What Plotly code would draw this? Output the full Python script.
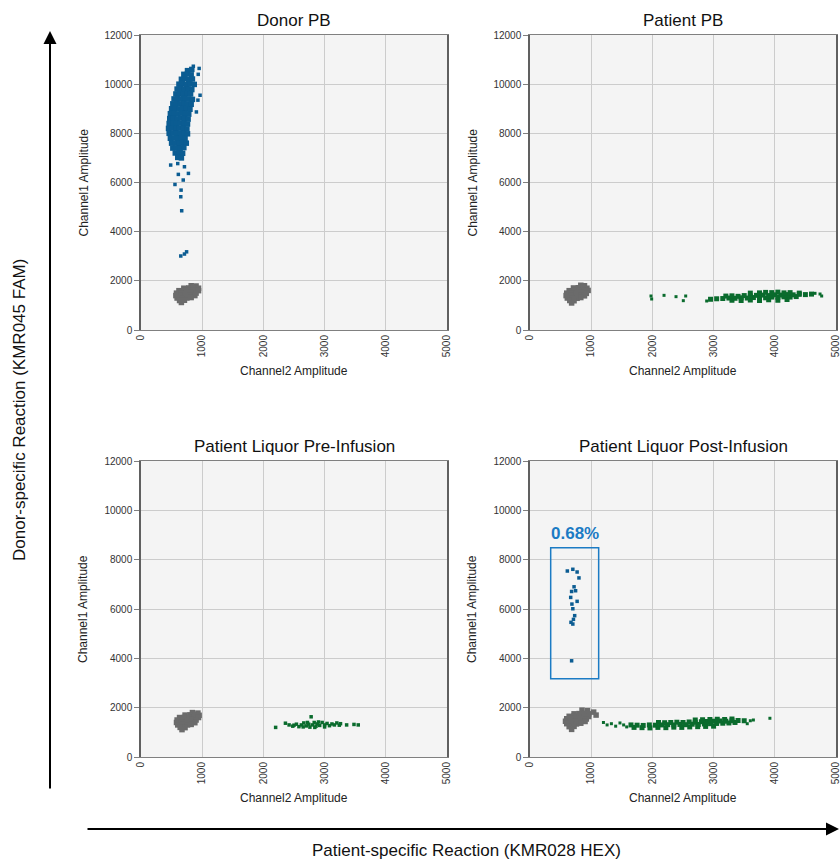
import plotly.graph_objects as go

# ---------------- data ----------------
panel_titles = ["Donor PB", "Patient PB", "Patient Liquor Pre-Infusion", "Patient Liquor Post-Infusion"]
x_ticks = [0, 1000, 2000, 3000, 4000, 5000]
y_ticks = [0, 2000, 4000, 6000, 8000, 10000, 12000]
pct_label = "0.68%"

# Donor PB - blue (FAM+) dense cluster
donor_blue_x = [760, 830, 700, 760, 820, 660, 720, 780, 840, 620, 680, 740, 800, 870,
                590, 650, 710, 770, 830, 570, 630, 690, 750, 810, 540, 600, 660, 720, 780, 840,
                520, 580, 640, 700, 760, 820, 500, 560, 620, 680, 740, 800, 480, 540, 600, 660, 720, 780,
                470, 530, 590, 650, 710, 770, 460, 520, 580, 640, 700, 760, 450, 510, 570, 630, 690, 750,
                460, 520, 580, 640, 700, 760, 480, 540, 600, 660, 720, 500, 560, 620, 680, 740,
                520, 580, 640, 700, 560, 620, 680, 600, 660]
donor_blue_y = [10550, 10600, 10400, 10420, 10380, 10200, 10220, 10180, 10210, 10000, 10020, 9980, 10010, 9990,
                9800, 9820, 9790, 9810, 9780, 9600, 9610, 9590, 9620, 9600, 9400, 9410, 9390, 9420, 9400, 9380,
                9200, 9210, 9190, 9220, 9200, 9180, 9000, 9010, 8990, 9020, 9000, 8980, 8800, 8810, 8790, 8820, 8800, 8780,
                8600, 8610, 8590, 8620, 8600, 8580, 8400, 8410, 8390, 8420, 8400, 8380, 8200, 8210, 8190, 8220, 8200, 8180,
                8000, 8010, 7990, 8020, 8000, 7980, 7800, 7810, 7790, 7820, 7800, 7600, 7610, 7590, 7620, 7600,
                7400, 7410, 7390, 7420, 7200, 7210, 7190, 7020, 7000]
# Donor PB - blue scattered droplets
donor_blue_out_x = [855, 950, 935, 965, 930, 905, 485, 600, 710, 610, 775, 690, 555, 655, 650, 665, 650, 710, 745]
donor_blue_out_y = [10730, 10640, 10400, 9550, 9350, 8870, 6710, 6770, 6640, 6330, 6370, 6100, 5920, 5690, 5420, 4850, 3010, 3090, 3180]

# Double-negative (grey) clusters, one per panel
neg1_x = [820, 900, 700, 780, 860, 940, 620, 700, 780, 860, 940, 580, 660, 740, 820, 900, 570, 650, 730, 810, 880, 590, 670, 750, 820, 630, 710, 660]
neg1_y = [1800, 1790, 1700, 1710, 1720, 1700, 1600, 1610, 1600, 1620, 1600, 1500, 1510, 1500, 1520, 1500, 1400, 1410, 1400, 1420, 1400, 1300, 1310, 1300, 1320, 1200, 1210, 1120]
neg2_x = [830, 890, 710, 790, 870, 930, 640, 720, 800, 880, 950, 600, 680, 760, 840, 920, 590, 670, 750, 830, 890, 610, 690, 770, 830, 650, 720, 680]
neg2_y = [1820, 1800, 1710, 1720, 1730, 1700, 1600, 1610, 1600, 1620, 1610, 1500, 1510, 1500, 1520, 1490, 1400, 1410, 1400, 1420, 1390, 1300, 1310, 1290, 1320, 1200, 1190, 1100]
neg3_x = [840, 930, 720, 800, 880, 950, 630, 710, 790, 870, 940, 590, 670, 750, 830, 900, 580, 660, 740, 820, 880, 600, 680, 760, 820, 640, 720, 670]
neg3_y = [1800, 1780, 1700, 1710, 1720, 1690, 1600, 1610, 1600, 1620, 1600, 1500, 1510, 1500, 1520, 1500, 1400, 1410, 1400, 1420, 1390, 1300, 1310, 1300, 1320, 1200, 1190, 1110]
neg4_x = [850, 940, 1040, 720, 800, 880, 960, 1080, 640, 720, 800, 880, 960, 600, 680, 760, 840, 920, 580, 660, 740, 820, 900, 600, 680, 760, 830, 640, 720, 680]
neg4_y = [1900, 1880, 1820, 1750, 1760, 1770, 1750, 1700, 1650, 1660, 1650, 1670, 1640, 1550, 1560, 1550, 1570, 1540, 1450, 1460, 1450, 1470, 1440, 1350, 1360, 1340, 1370, 1230, 1240, 1120]

# Patient PB - green (HEX+) cluster
ppb_green_x = [3300, 3450, 3600, 3750, 3900, 4050, 4200,
               2950, 3050, 3150, 3250, 3350, 3450, 3550, 3650, 3750, 3850, 3950, 4050, 4150, 4250, 4350,
               3200, 3300, 3400, 3500, 3600, 3700, 3800, 3900, 4000, 4100, 4200, 4300, 4400, 4500, 4600,
               3600, 3750, 3850, 3950, 4050, 4150, 4250, 4400]
ppb_green_y = [1210, 1200, 1220, 1200, 1230, 1210, 1240,
               1250, 1270, 1280, 1300, 1290, 1310, 1300, 1320, 1330, 1310, 1340, 1330, 1350, 1340, 1360,
               1380, 1390, 1370, 1400, 1390, 1410, 1420, 1400, 1430, 1420, 1440, 1430, 1450, 1440, 1460,
               1500, 1510, 1530, 1520, 1540, 1510, 1520, 1500]
ppb_green_out_x = [1977, 1988, 2190, 2386, 2544, 2505, 2887, 4739, 4657, 4766]
ppb_green_out_y = [1383, 1261, 1410, 1356, 1383, 1193, 1180, 1464, 1492, 1383]

# Liquor pre-infusion - green cluster
pre_green_x = [2200, 2360, 2420, 2480, 2500, 2540, 2580, 2620, 2650, 2660, 2700, 2720, 2740, 2760, 2780,
               2800, 2830, 2840, 2860, 2880, 2900, 2920, 2960, 3000, 3000, 3040, 3080, 3120, 3160, 3200,
               3240, 3260, 3360, 3480, 3550]
pre_green_y = [1200, 1370, 1300, 1250, 1290, 1330, 1230, 1300, 1220, 1380, 1260, 1400, 1330, 1210, 1630,
               1300, 1400, 1200, 1250, 1340, 1420, 1280, 1400, 1300, 1220, 1360, 1270, 1340, 1300, 1380,
               1290, 1350, 1300, 1320, 1300]

# Liquor post-infusion - green cluster
post_green_x = [1700, 1830, 1960, 2090, 2220, 2350, 2480, 2610, 2740, 2870, 3000,
                1650, 1750, 1850, 1950, 2050, 2150, 2250, 2350, 2450, 2550, 2650, 2750, 2850, 2950, 3050, 3150, 3250, 3350,
                2100, 2200, 2300, 2400, 2500, 2600, 2700, 2800, 2900, 3000, 3100, 3200, 3300, 3400, 3500,
                2700, 2820, 2940, 3060, 3180, 3300]
post_green_y = [1200, 1190, 1180, 1200, 1190, 1210, 1200, 1220, 1230, 1240, 1250,
                1300, 1290, 1280, 1300, 1290, 1300, 1310, 1300, 1320, 1310, 1330, 1320, 1340, 1350, 1360, 1370, 1380, 1400,
                1400, 1390, 1400, 1410, 1400, 1420, 1410, 1430, 1440, 1450, 1460, 1450, 1470, 1480, 1470,
                1500, 1510, 1520, 1530, 1520, 1540]
post_green_out_x = [1200, 1260, 1330, 1400, 1470, 1530, 1580, 3550, 3600, 3650, 3920]
post_green_out_y = [1400, 1300, 1350, 1250, 1380, 1300, 1220, 1350, 1470, 1500, 1570]

# Liquor post-infusion - blue (donor) droplets
post_blue_x = [610, 700, 770, 800, 720, 745, 680, 665, 770, 685, 700, 730, 710, 670, 700, 680]
post_blue_y = [7540, 7610, 7500, 7260, 6900, 6740, 6710, 6470, 6310, 6200, 6010, 5730, 5580, 5460, 5390, 3900]

# Gate box around donor droplets (x0, x1, y0, y1)
gate_x = [338, 1122]
gate_y = [3170, 8480]

# ---------------- figure ----------------
BLUE = "#0b5c92"
GREEN = "#0a6b2d"
GREY = "#6b6b6b"
FONT = "Liberation Sans, Arial, sans-serif"

W, H = 840, 862
# plot areas in pixels: (left, right, top, bottom)
areas = [(141, 447, 35, 330), (530, 836, 35, 330), (141, 447, 461, 757), (530, 836, 461, 757)]

fig = go.Figure()

def add(xs, ys, color, size, axis_i):
    sfx = "" if axis_i == 1 else str(axis_i)
    fig.add_trace(go.Scatter(x=xs, y=ys, mode="markers", xaxis="x" + sfx, yaxis="y" + sfx,
                             marker=dict(symbol="square", size=size, color=color, line=dict(width=0)),
                             hoverinfo="x+y", showlegend=False))

# panel 1
add(neg1_x, neg1_y, GREY, 5.5, 1)
add(donor_blue_x, donor_blue_y, BLUE, 5.5, 1)
add(donor_blue_out_x, donor_blue_out_y, BLUE, 3.5, 1)
# panel 2
add(neg2_x, neg2_y, GREY, 5.5, 2)
add(ppb_green_x, ppb_green_y, GREEN, 5, 2)
add(ppb_green_out_x, ppb_green_out_y, GREEN, 3, 2)
# panel 3
add(neg3_x, neg3_y, GREY, 5.5, 3)
add(pre_green_x, pre_green_y, GREEN, 3.5, 3)
# panel 4
add(neg4_x, neg4_y, GREY, 5.5, 4)
add(post_green_x, post_green_y, GREEN, 5, 4)
add(post_green_out_x, post_green_out_y, GREEN, 3, 4)
add(post_blue_x, post_blue_y, BLUE, 3.5, 4)

layout = dict(width=W, height=H, autosize=False, paper_bgcolor="white", plot_bgcolor="#f4f4f4",
              margin=dict(l=0, r=0, t=0, b=0, pad=0), font=dict(family=FONT, color="#222"))

annotations = []
for i, (l, r, t, b) in enumerate(areas, start=1):
    sfx = "" if i == 1 else str(i)
    layout["xaxis" + sfx] = dict(domain=[l / W, r / W], anchor="y" + sfx, range=[0, 5000],
                                 tickvals=x_ticks, ticktext=[str(v) for v in x_ticks], tickangle=-90,
                                 tickfont=dict(size=10, color="#333"), ticks="", showgrid=True,
                                 gridcolor="#cccccc", gridwidth=1, zeroline=False, automargin=False,
                                 ticklabeloverflow="allow",
                                 showline=True, mirror=True, linecolor="#808080", linewidth=1)
    layout["yaxis" + sfx] = dict(domain=[1 - b / H, 1 - t / H], anchor="x" + sfx, range=[0, 12000],
                                 tickvals=y_ticks, ticktext=[str(v) for v in y_ticks], automargin=False,
                                 tickfont=dict(size=10, color="#333"), ticks="outside", ticklen=5,
                                 ticklabeloverflow="allow",
                                 tickcolor="#808080", showgrid=True, gridcolor="#cccccc", gridwidth=1,
                                 zeroline=False, showline=True, mirror=True, linecolor="#606060", linewidth=1.5)
    cx = (l + r) / 2
    annotations.append(dict(text=panel_titles[i - 1], x=cx / W, y=1 - (t - 15) / H, xref="paper", yref="paper",
                            showarrow=False, font=dict(size=17, color="#111"), xanchor="center", yanchor="middle"))
    annotations.append(dict(text="Channel2 Amplitude", x=cx / W, y=1 - (b + 41) / H, xref="paper", yref="paper",
                            showarrow=False, font=dict(size=12, color="#222"), xanchor="center", yanchor="middle"))
    annotations.append(dict(text="Channel1 Amplitude", x=(l - 58) / W, y=1 - (t + b) / 2 / H, xref="paper",
                            yref="paper", showarrow=False, textangle=-90, font=dict(size=12, color="#222"),
                            xanchor="center", yanchor="middle"))

# gate box and percentage in panel 4
shapes = [dict(type="rect", xref="x4", yref="y4", x0=gate_x[0], x1=gate_x[1], y0=gate_y[0], y1=gate_y[1],
               line=dict(color="#1b7bc4", width=1.5), fillcolor="rgba(0,0,0,0)")]
annotations.append(dict(text="<b>" + pct_label + "</b>", x=(gate_x[0] + gate_x[1]) / 2, y=gate_y[1] + 600,
                        xref="x4", yref="y4", showarrow=False, font=dict(size=17, color="#1b7bc4"),
                        xanchor="center", yanchor="middle"))

# big arrows and labels
annotations.append(dict(text="", x=50 / W, y=1 - 31 / H, xref="paper", yref="paper", showarrow=True,
                        axref="pixel", ayref="pixel", ax=0, ay=759, arrowhead=2, arrowsize=1.3,
                        arrowwidth=2, arrowcolor="black"))
annotations.append(dict(text="", x=839 / W, y=1 - 829 / H, xref="paper", yref="paper", showarrow=True,
                        axref="pixel", ayref="pixel", ax=-753, ay=0, arrowhead=2, arrowsize=1.3,
                        arrowwidth=2, arrowcolor="black"))
annotations.append(dict(text="Donor-specific Reaction (KMR045 FAM)", x=19 / W, y=1 - 410 / H, xref="paper",
                        yref="paper", showarrow=False, textangle=-90, font=dict(size=17, color="#111"),
                        xanchor="center", yanchor="middle"))
annotations.append(dict(text="Patient-specific Reaction (KMR028 HEX)", x=466 / W, y=1 - 850 / H, xref="paper",
                        yref="paper", showarrow=False, font=dict(size=17, color="#111"),
                        xanchor="center", yanchor="middle"))

layout["annotations"] = annotations
layout["shapes"] = shapes
fig.update_layout(**layout)

page_fix = ("document.documentElement.style.margin='0';document.body.style.margin='0';"
            "document.body.style.padding='0';document.documentElement.style.overflow='hidden';"
            "document.body.style.overflow='hidden';window.dispatchEvent(new Event('resize'));")
fig.write_html("out.html", config={"responsive": False, "displayModeBar": False}, post_script=page_fix)
